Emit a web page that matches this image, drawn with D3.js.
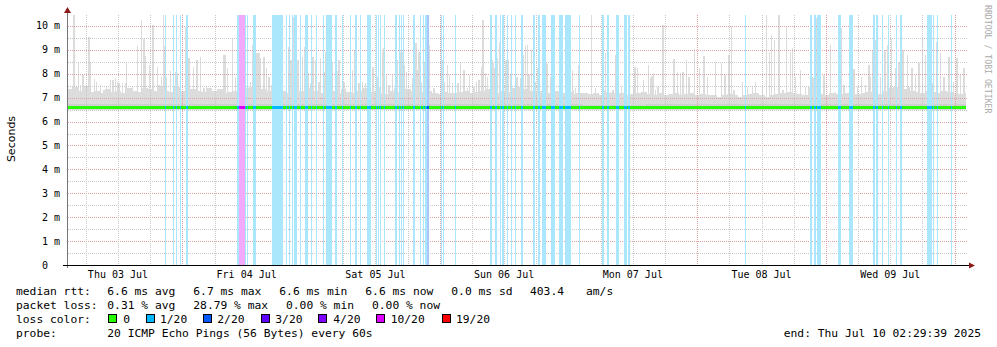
<!DOCTYPE html>
<html>
<head>
<meta charset="utf-8">
<script src="https://cdn.jsdelivr.net/npm/d3@7"></script>
<style>
  html, body { margin: 0; padding: 0; background: #fff; }
  svg { display: block; }
</style>
</head>
<body>
<svg id="chart" width="997" height="347"></svg>
<script>
// ---- time frame (hours since Thu 03 Jul 00:00) ----
const START_H = 2.494;            // Thu Jul 03 02:29:39
const END_H = START_H + 168;      // Thu Jul 10 02:29:39
const Y_MAX = 10.46;              // ms, top of the plot
const SMOKE_MIN = 6.48;           // ms, fastest pings

const dayLabels = ["Thu 03 Jul", "Fri 04 Jul", "Sat 05 Jul", "Sun 06 Jul", "Mon 07 Jul", "Tue 08 Jul", "Wed 09 Jul"];
const yTicks = [0, 1, 2, 3, 4, 5, 6, 7, 8, 9, 10];

// upper edge of the dense smoke, 1 h bins (ms)
const smokeUpper = [
  // Thu 02:30 .. Fri 02:30
  7.35, 7.45, 7.3, 7.5, 7.25, 7.3, 7.2, 7.35, 7.25, 7.3, 7.2, 7.4, 7.3, 7.25, 7.4, 7.35, 7.3, 7.5, 7.3, 7.25, 7.45, 7.3, 7.2, 7.35,
  // Fri
  7.3, 7.25, 7.4, 7.3, 7.35, 7.2, 7.25, 7.3, 7.5, 7.4, 7.45, 7.3, 7.35, 7.3, 7.25, 7.4, 7.3, 7.2, 7.35, 7.3, 7.25, 7.4, 7.3, 7.2,
  // Sat
  7.25, 7.3, 7.2, 7.35, 7.25, 7.2, 7.3, 7.4, 7.25, 7.3, 7.2, 7.15, 7.3, 7.25, 7.2, 7.35, 7.3, 7.2, 7.25, 7.3, 7.2, 7.15, 7.25, 7.2,
  // Sun
  7.2, 7.25, 7.3, 7.2, 7.25, 7.3, 7.35, 7.3, 7.2, 7.3, 7.25, 7.4, 7.45, 7.35, 7.3, 7.25, 7.3, 7.2, 7.25, 7.3, 7.2, 7.25, 7.15, 7.2,
  // Mon
  7.2, 7.15, 7.2, 7.1, 7.25, 7.2, 7.15, 7.2, 7.1, 7.15, 7.2, 7.25, 7.15, 7.1, 7.2, 7.1, 7.15, 7.2, 7.1, 7.15, 7.2, 7.1, 7.15, 7.1,
  // Tue
  7.1, 7.05, 7.1, 7.15, 7.1, 7.05, 7.1, 7.15, 7.2, 7.1, 7.05, 7.1, 7.15, 7.2, 7.25, 7.2, 7.15, 7.1, 7.05, 7.1, 7.15, 7.1, 7.2, 7.15,
  // Wed
  7.15, 7.2, 7.1, 7.15, 7.2, 7.25, 7.2, 7.15, 7.3, 7.4, 7.45, 7.3, 7.35, 7.3, 7.25, 7.2, 7.3, 7.25, 7.2, 7.3, 7.25, 7.2, 7.15, 7.2
];
// inner (darker) smoke band top, 12 h bins (ms)
const smokeInner = [6.74, 6.73, 6.73, 6.72, 6.73, 6.72, 6.72, 6.72, 6.71, 6.72, 6.72, 6.73, 6.73, 6.72];
// median rtt, 6 h bins (ms)
const medianRtt = [
  6.61, 6.61, 6.61, 6.61, 6.61, 6.61, 6.61, 6.6, 6.6, 6.6,
  6.6, 6.6, 6.6, 6.59, 6.59, 6.58, 6.58, 6.58, 6.58, 6.58,
  6.58, 6.59, 6.59, 6.59, 6.6, 6.6, 6.6, 6.6
];

// packet loss periods: [from h, to h, lost pings of 20]
const lossBands = [
  [20.77, 20.96, 1], [22.26, 22.45, 1], [22.82, 23.01, 1], [23.57, 23.76, 1], [24.69, 25.12, 1],
  [34.20, 34.63, 1], [34.63, 35.74, 10], [35.74, 35.93, 1], [36.06, 36.25, 1], [37.18, 37.65, 1],
  [40.72, 42.77, 1], [43.33, 43.58, 1], [43.89, 44.08, 1], [44.36, 44.64, 1], [44.83, 45.38, 1],
  [45.94, 46.13, 1], [46.88, 47.44, 1], [48.00, 48.18, 1], [48.93, 49.11, 1], [50.14, 50.33, 1],
  [50.79, 51.63, 1], [51.72, 51.91, 1], [52.47, 52.75, 1], [53.68, 53.87, 1],
  [55.27, 55.45, 1], [56.20, 56.57, 1], [57.13, 57.32, 1], [58.34, 59.18, 1], [60.02, 60.21, 1],
  [60.39, 60.58, 1], [60.86, 61.05, 1], [61.61, 61.79, 1],
  [63.66, 63.94, 1], [64.31, 64.50, 1], [64.68, 64.87, 1], [65.15, 65.34, 1], [67.01, 67.44, 1],
  [68.32, 68.51, 1], [68.79, 68.97, 1], [69.25, 69.62, 1], [69.62, 70.00, 2],
  [72.24, 72.42, 1], [72.61, 72.80, 1], [74.85, 75.03, 1],
  [81.28, 81.65, 1], [82.30, 82.68, 1], [83.14, 83.33, 1], [83.52, 83.98, 1], [84.45, 84.64, 1],
  [85.19, 85.47, 1], [85.94, 86.13, 1], [87.15, 87.52, 1],
  [89.39, 89.76, 1], [90.32, 90.69, 1], [91.07, 91.72, 1], [92.75, 93.49, 1], [94.14, 94.98, 1],
  [95.41, 96.48, 1], [97.97, 98.15, 1],
  [102.26, 102.63, 1], [103.09, 103.56, 1], [104.87, 105.43, 1], [106.36, 106.92, 1], [107.10, 107.53, 1],
  [128.92, 129.11, 1],
  [141.04, 141.32, 1], [141.78, 142.06, 1], [142.34, 142.62, 1], [142.77, 143.09, 1],
  [146.26, 146.73, 1], [148.31, 149.05, 1],
  [152.79, 153.07, 1], [153.40, 153.62, 1], [154.46, 154.65, 1], [155.58, 155.77, 1],
  [157.07, 157.26, 1], [157.82, 158.19, 1],
  [162.85, 163.69, 1], [163.88, 164.07, 1], [164.72, 164.91, 1], [167.33, 167.52, 1]
];

// slowest ping per probe round where it stands out: [h, ms]
const spikes = [
  [2.5, 7.67], [3.74, 10.46], [4.6, 8.5], [5.0, 7.53], [5.42, 7.95], [5.79, 7.25], [6.54, 9.55], [6.8, 8.45],
  [7.6, 7.8], [7.97, 7.67], [8.71, 7.53], [9.34, 7.32], [9.83, 7.46], [10.58, 7.74], [11.01, 7.76], [11.51, 7.81],
  [11.82, 7.67], [12.13, 7.6], [12.75, 7.6], [13.38, 7.6], [13.5, 8.5], [14.0, 7.32], [14.62, 7.46], [15.6, 9.16],
  [16.3, 10.25], [16.8, 9.45], [17.1, 8.74], [17.85, 8.37], [18.47, 10.06], [19.28, 8.3], [19.59, 7.53], [20.09, 7.88],
  [20.4, 10.46], [20.71, 9.16], [21.02, 7.88], [21.7, 8.13], [22.7, 8.09], [23.0, 8.02], [24.56, 9.97], [25.2, 8.66],
  [26.0, 8.3], [26.7, 8.58], [27.3, 8.7], [27.98, 7.39], [28.42, 7.46], [29.22, 7.32], [30.78, 7.25], [31.71, 8.79],
  [32.02, 8.79], [32.33, 8.24], [33.26, 9.5], [33.89, 7.88],
  [36.68, 7.67], [37.1, 9.2], [37.75, 8.72], [37.92, 8.86], [38.24, 8.86], [38.55, 8.65], [39.17, 8.72], [39.6, 8.23],
  [40.1, 7.88], [40.54, 7.53], [43.83, 9.13], [44.2, 8.58], [44.7, 10.39], [45.5, 8.58], [46.32, 8.72], [46.75, 9.13],
  [47.5, 8.02], [47.87, 7.6], [48.3, 8.72], [48.8, 8.58], [49.42, 7.67], [49.73, 8.65], [50.4, 8.09], [50.67, 8.92],
  [51.95, 8.44], [53.0, 8.1], [53.15, 8.58], [54.08, 7.67], [55.64, 8.16], [56.1, 8.99], [56.88, 7.6], [57.5, 7.67],
  [57.8, 7.25], [58.12, 7.6],
  [59.5, 8.3], [60.3, 7.88], [60.74, 7.46], [61.23, 8.92], [61.5, 9.06], [62.04, 7.95], [62.48, 7.53], [63.1, 7.95],
  [63.5, 7.39], [64.09, 8.58], [64.58, 8.92], [64.95, 8.92], [65.4, 8.37], [65.77, 8.09], [66.33, 7.25], [66.83, 7.81],
  [67.5, 9.27], [67.76, 8.16], [68.07, 8.92], [68.6, 7.67], [69.05, 8.51], [70.06, 9.2], [70.87, 7.39], [72.5, 8.58],
  [72.86, 7.67], [73.35, 8.37], [73.79, 7.95], [74.29, 7.6], [75.34, 7.6], [75.84, 8.51], [76.46, 8.16], [77.08, 7.39],
  [77.52, 7.95], [78.33, 7.46], [78.76, 7.67], [79.26, 7.74], [79.69, 8.3], [80.0, 10.25], [80.5, 8.02], [80.81, 7.88],
  [81.7, 8.58], [81.93, 8.44], [82.2, 8.23], [82.75, 8.65], [83.05, 9.34], [84.23, 8.16], [84.3, 8.58], [84.7, 8.58],
  [85.1, 7.95], [85.78, 7.32], [86.4, 7.88], [87.03, 7.81], [87.6, 8.79], [88.0, 9.15], [88.27, 9.2], [88.58, 7.95],
  [89.08, 8.99], [89.85, 7.67], [90.13, 8.23], [91.8, 8.5], [91.94, 8.43], [92.0, 7.25], [92.62, 7.88], [96.66, 8.16],
  [96.78, 7.32], [97.28, 7.39], [97.8, 8.37], [98.5, 7.18], [100.26, 10.46], [101.0, 7.39], [102.69, 7.32], [102.9, 8.85],
  [103.8, 7.25], [104.24, 7.32], [104.7, 8.79], [105.86, 7.46], [108.16, 7.39], [108.4, 8.3], [108.78, 8.23], [109.4, 7.18],
  [109.9, 7.74], [110.83, 8.37], [111.27, 7.81], [111.5, 7.9], [111.76, 8.02], [112.2, 7.32], [112.69, 7.46], [113.6, 10.04],
  [115.62, 8.61], [116.24, 8.09], [116.86, 8.02], [117.3, 8.09], [117.92, 8.58], [118.42, 7.88], [119.47, 9.02], [120.4, 8.23],
  [121.21, 8.75], [121.83, 7.88], [123.39, 8.51], [124.51, 8.44], [125.13, 7.95], [125.87, 8.79], [126.37, 10.0], [126.8, 7.32],
  [128.36, 7.67], [129.29, 7.46], [130.22, 7.46], [130.85, 7.67], [132.09, 7.53], [132.9, 10.46], [133.46, 8.93], [133.83, 9.62],
  [134.33, 9.41], [135.2, 10.46], [135.94, 7.32], [136.63, 9.97], [137.37, 8.92], [137.7, 9.06], [138.3, 7.88], [139.24, 8.16],
  [140.17, 7.46], [140.79, 7.46], [141.45, 7.88], [141.72, 7.81], [142.22, 10.32], [143.59, 7.95], [144.83, 9.2], [145.76, 7.25],
  [146.85, 9.9], [147.32, 7.53], [149.2, 8.2], [149.8, 7.46], [150.61, 7.88], [151.35, 7.53], [151.98, 8.37], [152.29, 7.88],
  [152.7, 8.99], [153.3, 9.41], [154.15, 7.88], [154.96, 8.99], [155.4, 9.2], [156.2, 9.44], [156.95, 8.23], [157.57, 8.51],
  [158.3, 8.99], [159.2, 8.79], [159.43, 7.46], [160.05, 8.23], [160.68, 7.95], [161.3, 8.44], [161.92, 9.41], [162.54, 8.79],
  [163.78, 7.6], [164.59, 9.34], [165.34, 8.86], [165.96, 7.88], [166.89, 8.72], [167.0, 8.5], [167.7, 7.67], [168.44, 8.65],
  [169.07, 7.95], [169.69, 8.23]
];

// legend
const lossLevels = [0, 1, 2, 3, 4, 10, 19];
const lossLabels = ["0", "1/20", "2/20", "3/20", "4/20", "10/20", "19/20"];
const lossColors = ["#26ff00", "#00b8ff", "#0059ff", "#5e00ff", "#7e00ff", "#dd00ff", "#ff0000"];
const lossShades = { 1: "#aae6fc", 2: "#aac6ff", 10: "#f2aaff" };
const rttLine = ["median rtt:", "6.6 ms avg", "6.7 ms max", "6.6 ms min", "6.6 ms now", "0.0 ms sd", "403.4", "am/s"];
const lossLine = ["packet loss:", "0.31 % avg", "28.79 % max", "0.00 % min", "0.00 % now"];
const probeLine = ["probe:", "20 ICMP Echo Pings (56 Bytes) every 60s"];
const endLabel = "end: Thu Jul 10 02:29:39 2025";

// ---- layout ----
const PL = 67, PR = 968, PT = 15, PB = 265;
const MONO = "'DejaVu Sans Mono', monospace";
const svg = d3.select("#chart");
svg.append("rect").attr("width", 997).attr("height", 347).attr("fill", "#fff");

const x = d3.scaleLinear().domain([START_H, END_H]).range([PL, PR]);
const y = d3.scaleLinear().domain([0, Y_MAX]).range([PB, PT]);

// ---- smoke ----
const SMOKE = "#dcdcdc";
const gSmoke = svg.append("g").attr("shape-rendering", "crispEdges");
const upperBins = smokeUpper.map((v, i) => ({ h0: START_H + i, h1: Math.min(END_H - 0.5, START_H + i + 1), v }));
gSmoke.selectAll("rect.upper").data(upperBins).join("rect").attr("class", "upper")
  .attr("x", d => x(d.h0)).attr("width", d => x(d.h1) - x(d.h0) + 0.6)
  .attr("y", d => y(d.v)).attr("height", d => y(SMOKE_MIN) - y(d.v))
  .attr("fill", SMOKE);
gSmoke.selectAll("rect.spike").data(spikes).join("rect").attr("class", "spike")
  .attr("x", d => x(d[0]) - 0.5).attr("width", 1.4)
  .attr("y", d => y(d[1])).attr("height", d => y(SMOKE_MIN) - y(d[1]))
  .attr("fill", SMOKE);
const innerBins = smokeInner.map((v, i) => ({ h0: START_H + i * 12, h1: Math.min(END_H - 0.5, START_H + (i + 1) * 12), v }));
gSmoke.selectAll("rect.inner").data(innerBins).join("rect").attr("class", "inner")
  .attr("x", d => x(d.h0)).attr("width", d => x(d.h1) - x(d.h0) + 0.6)
  .attr("y", d => y(d.v)).attr("height", d => y(6.56) - y(d.v))
  .attr("fill", "#d0d0d0");

// ---- grid ----
const gGrid = svg.append("g").attr("shape-rendering", "crispEdges").attr("stroke-dasharray", "1,1");
const px = v => Math.round(v) + 0.5;
const minorY = d3.range(0.5, 10.4, 1);
const majorY = yTicks.filter(v => v > 0);
gGrid.selectAll("line.my").data(minorY).join("line")
  .attr("x1", PL + 1).attr("x2", PR).attr("y1", d => px(y(d))).attr("y2", d => px(y(d)))
  .attr("stroke", "#c8c8c8");
gGrid.selectAll("line.My").data(majorY).join("line")
  .attr("x1", PL + 1).attr("x2", PR).attr("y1", d => px(y(d))).attr("y2", d => px(y(d)))
  .attr("stroke", "#e2a0a0");
const sixHours = d3.range(6, END_H, 6).filter(h => h > START_H);
gGrid.selectAll("line.mx").data(sixHours.filter(h => h % 24 !== 0)).join("line")
  .attr("x1", d => px(x(d))).attr("x2", d => px(x(d))).attr("y1", PT).attr("y2", PB)
  .attr("stroke", "#c8c8c8");
gGrid.selectAll("line.Mx").data(sixHours.filter(h => h % 24 === 0)).join("line")
  .attr("x1", d => px(x(d))).attr("x2", d => px(x(d))).attr("y1", PT).attr("y2", PB)
  .attr("stroke", "#e2a0a0");

// ---- packet loss periods ----
const gLoss = svg.append("g").attr("shape-rendering", "crispEdges");
gLoss.selectAll("rect").data(lossBands).join("rect")
  .attr("x", d => x(d[0])).attr("width", d => Math.max(1, x(d[1]) - x(d[0])))
  .attr("y", PT).attr("height", PB - PT)
  .attr("fill", d => lossShades[d[2]]);

// ---- median line, coloured by loss ----
const gMed = svg.append("g").attr("shape-rendering", "crispEdges");
const medBins = medianRtt.map((v, i) => ({ h0: START_H + i * 6, h1: Math.min(END_H - 0.5, START_H + (i + 1) * 6), v }));
const medianAt = h => medianRtt[Math.max(0, Math.min(medianRtt.length - 1, Math.floor((h - START_H) / 6)))];
gMed.selectAll("rect.med").data(medBins).join("rect").attr("class", "med")
  .attr("x", d => x(d.h0)).attr("width", d => x(d.h1) - x(d.h0) + 0.6)
  .attr("y", d => y(d.v) - 1.5).attr("height", 3)
  .attr("fill", lossColors[0]);
gMed.selectAll("rect.lossmed").data(lossBands).join("rect").attr("class", "lossmed")
  .attr("x", d => x(d[0])).attr("width", d => Math.max(1, x(d[1]) - x(d[0])))
  .attr("y", d => y(medianAt(d[0])) - 1.5).attr("height", 3)
  .attr("fill", d => lossColors[lossLevels.indexOf(d[2])]);

// ---- axes ----
const gAx = svg.append("g").attr("shape-rendering", "crispEdges");
gAx.append("line").attr("x1", PL + 0.5).attr("x2", PL + 0.5).attr("y1", 12).attr("y2", PB + 3)
  .attr("stroke", "#777");
gAx.append("line").attr("x1", 63).attr("x2", 971).attr("y1", PB + 0.5).attr("y2", PB + 0.5)
  .attr("stroke", "#000");
svg.append("path").attr("d", `M${PL - 3},13 L${PL + 0.5},7 L${PL + 4},13 Z`).attr("fill", "#8b1a1a");
svg.append("path").attr("d", `M969,${PB - 2.5} L975,${PB + 0.5} L969,${PB + 3.5} Z`).attr("fill", "#8b1a1a");

// y tick labels
svg.append("g").selectAll("text").data(yTicks).join("text")
  .attr("x", d => d === 0 ? 48 : 60).attr("y", d => y(d) + 3.5)
  .attr("text-anchor", "end").attr("font-family", MONO).attr("font-size", 10).attr("fill", "#000")
  .text(d => d === 0 ? "0" : d + " m");

// x day labels at noon
svg.append("g").selectAll("text").data(dayLabels).join("text")
  .attr("x", (d, i) => x(12 + 24 * i)).attr("y", 278)
  .attr("text-anchor", "middle").attr("font-family", MONO).attr("font-size", 10).attr("fill", "#000")
  .text(d => d);

// axis title
svg.append("text").attr("transform", "translate(15,139) rotate(-90)")
  .attr("text-anchor", "middle").attr("font-family", "'DejaVu Sans', sans-serif").attr("font-size", 11)
  .attr("fill", "#000").text("Seconds");

// credit
svg.append("text").attr("transform", "translate(985,5) rotate(90)")
  .attr("text-anchor", "start").attr("font-family", MONO).attr("font-size", 8.2)
  .attr("fill", "#aaaaaa").text("RRDTOOL / TOBI OETIKER");

// ---- legend ----
const gLeg = svg.append("g").attr("font-family", MONO).attr("font-size", 11.3).attr("fill", "#000");
const rttX = [16, 107.3, 193.3, 279.3, 365.3, 451.3, 530, 586];
const lossX = [16, 107.3, 193.3, 286, 372];
const probeX = [16, 107.3];
gLeg.selectAll("text.l1").data(rttLine).join("text").attr("class", "l1")
  .attr("x", (d, i) => rttX[i]).attr("y", 295).text(d => d);
gLeg.selectAll("text.l2").data(lossLine).join("text").attr("class", "l2")
  .attr("x", (d, i) => lossX[i]).attr("y", 309).text(d => d);
gLeg.append("text").attr("x", 16).attr("y", 323).text("loss color:");
const boxX = [108.5, 146.5, 203.5, 261.5, 318.5, 376.5, 442.5];
const boxLabelX = [123.3, 160, 217.3, 275.3, 333.3, 390.7, 456];
gLeg.selectAll("rect.box").data(lossColors).join("rect").attr("class", "box")
  .attr("x", (d, i) => boxX[i]).attr("y", 314.5).attr("width", 8).attr("height", 8)
  .attr("fill", d => d).attr("stroke", "#000").attr("stroke-width", 1)
  .attr("shape-rendering", "crispEdges");
gLeg.selectAll("text.l3").data(lossLabels).join("text").attr("class", "l3")
  .attr("x", (d, i) => boxLabelX[i]).attr("y", 323).text(d => d);
gLeg.selectAll("text.l4").data(probeLine).join("text").attr("class", "l4")
  .attr("x", (d, i) => probeX[i]).attr("y", 337).text(d => d);
gLeg.append("text").attr("x", 981).attr("y", 337).attr("text-anchor", "end").text(endLabel);
</script>
</body>
</html>
